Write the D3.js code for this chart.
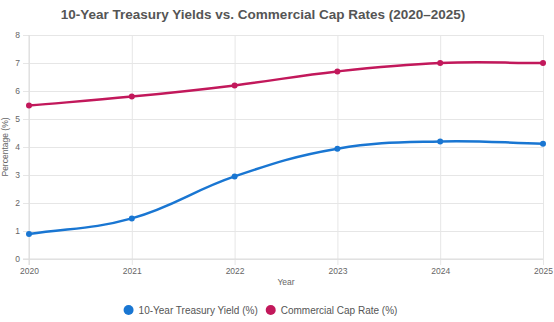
<!DOCTYPE html>
<html>
<head>
<meta charset="utf-8">
<script src="https://cdn.jsdelivr.net/npm/d3@7"></script>
<style>
  body { margin: 0; background: #fff; }
  svg { display: block; font-family: "Liberation Sans", Arial, sans-serif; }
</style>
</head>
<body>
<div id="chart"></div>
<script>
// Chart data.
const years = [2020, 2021, 2022, 2023, 2024, 2025];
const treasuryYield = [0.89, 1.45, 2.95, 3.94, 4.2, 4.12];
const capRate = [5.48, 5.8, 6.2, 6.7, 7.0, 7.0];
const yTicks = [0, 1, 2, 3, 4, 5, 6, 7, 8];
const seriesNames = ["10-Year Treasury Yield (%)", "Commercial Cap Rate (%)"];
const seriesColors = ["#1976d2", "#c2185b"];

const width = 554, height = 322;
const margin = { top: 35, right: 11, bottom: 63, left: 29 };
const innerW = width - margin.left - margin.right;
const innerH = height - margin.top - margin.bottom;

const svg = d3.select("#chart").append("svg")
    .attr("width", width)
    .attr("height", height);

// Title.
svg.append("text")
    .attr("x", 263)
    .attr("y", 19)
    .attr("text-anchor", "middle")
    .attr("font-size", 13.5)
    .attr("font-weight", "bold")
    .attr("fill", "#555")
    .text("10-Year Treasury Yields vs. Commercial Cap Rates (2020\u20132025)");

const g = svg.append("g")
    .attr("transform", `translate(${margin.left},${margin.top})`);

const x = d3.scaleLinear().domain([2020, 2025]).range([0, innerW]);
const y = d3.scaleLinear().domain([0, 8]).range([innerH, 0]);

// Y axis with gridlines (ticks stick out 6px to the left).
const yAxis = g.append("g")
    .attr("transform", "translate(-6,0)")
    .call(d3.axisLeft(y).tickValues(yTicks).tickSize(-(innerW + 6)).tickPadding(3));
yAxis.select(".domain").remove();
yAxis.selectAll("line").attr("stroke", "#e6e6e6");
yAxis.selectAll("text").attr("fill", "#666").attr("font-size", 8.5)
    .attr("font-family", "Liberation Sans, Arial, sans-serif");

// X axis with gridlines.
const xAxis = g.append("g")
    .attr("transform", `translate(0,${innerH + 6})`)
    .call(d3.axisBottom(x).tickValues(years).tickFormat(d3.format("d"))
        .tickSize(-(innerH + 6)).tickPadding(3));
xAxis.select(".domain").remove();
xAxis.selectAll("line").attr("stroke", "#e6e6e6");
xAxis.selectAll("text").attr("fill", "#666").attr("font-size", 8.5)
    .attr("font-family", "Liberation Sans, Arial, sans-serif");

// Axis lines at the left and bottom, slightly darker.
g.append("line").attr("x1", 0).attr("x2", 0).attr("y1", 0).attr("y2", innerH + 6)
    .attr("stroke", "#dcdcdc");
g.append("line").attr("x1", -6).attr("x2", innerW).attr("y1", innerH).attr("y2", innerH)
    .attr("stroke", "#dcdcdc");

// Axis titles.
svg.append("text")
    .attr("x", margin.left + innerW / 2)
    .attr("y", 285)
    .attr("text-anchor", "middle")
    .attr("font-size", 8.5)
    .attr("fill", "#666")
    .text("Year");

svg.append("text")
    .attr("transform", `translate(8,${margin.top + innerH / 2}) rotate(-90)`)
    .attr("text-anchor", "middle")
    .attr("font-size", 8.5)
    .attr("fill", "#666")
    .text("Percentage (%)");

// Spline like Chart.js (tension 0.4).
function splinePath(pts, t) {
    const p = d3.path();
    const cps = pts.map((pt, i) => {
        const prev = pts[Math.max(i - 1, 0)];
        const next = pts[Math.min(i + 1, pts.length - 1)];
        const d01 = Math.hypot(pt[0] - prev[0], pt[1] - prev[1]);
        const d12 = Math.hypot(next[0] - pt[0], next[1] - pt[1]);
        let s01 = d01 / (d01 + d12), s12 = d12 / (d01 + d12);
        if (isNaN(s01)) s01 = 0;
        if (isNaN(s12)) s12 = 0;
        const fa = t * s01, fb = t * s12;
        return {
            inX: pt[0] - fa * (next[0] - prev[0]),
            inY: pt[1] - fa * (next[1] - prev[1]),
            outX: pt[0] + fb * (next[0] - prev[0]),
            outY: pt[1] + fb * (next[1] - prev[1])
        };
    });
    p.moveTo(pts[0][0], pts[0][1]);
    for (let i = 1; i < pts.length; i++) {
        p.bezierCurveTo(cps[i - 1].outX, cps[i - 1].outY, cps[i].inX, cps[i].inY, pts[i][0], pts[i][1]);
    }
    return p.toString();
}

[treasuryYield, capRate].forEach((values, s) => {
    const pts = values.map((v, i) => [x(years[i]), y(v)]);
    g.append("path")
        .attr("d", splinePath(pts, 0.4))
        .attr("fill", "none")
        .attr("stroke", seriesColors[s])
        .attr("stroke-width", 2.5);
    g.selectAll(null)
        .data(values)
        .enter()
        .append("circle")
        .attr("cx", (d, i) => x(years[i]))
        .attr("cy", d => y(d))
        .attr("r", 3)
        .attr("fill", seriesColors[s]);
});

// Legend.
const legend = svg.append("g");
let lx = 0;
seriesNames.forEach((name, i) => {
    const item = legend.append("g").attr("transform", `translate(${lx},0)`);
    item.append("circle").attr("cx", 5).attr("cy", 0).attr("r", 5).attr("fill", seriesColors[i]);
    const txt = item.append("text")
        .attr("x", 15)
        .attr("dy", "0.35em")
        .attr("font-size", 10)
        .attr("fill", "#555")
        .text(name);
    lx += 15 + txt.node().getComputedTextLength() + 8;
});
const legendW = lx - 8;
legend.attr("transform", `translate(${260.5 - legendW / 2},310)`);
</script>
</body>
</html>
